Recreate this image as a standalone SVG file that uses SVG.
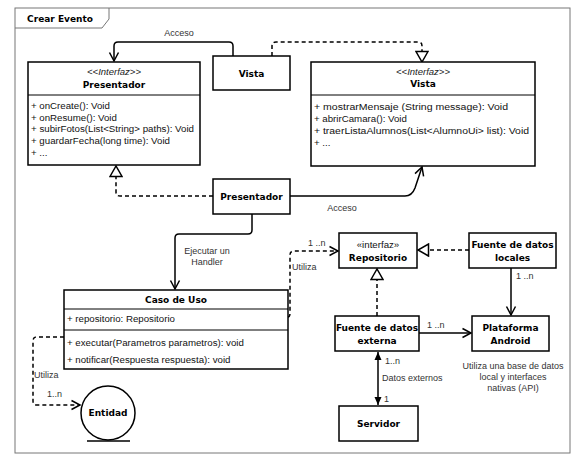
<svg xmlns="http://www.w3.org/2000/svg" width="587" height="460" viewBox="0 0 587 460">
<style>
.box{fill:#fff;stroke:#000;stroke-width:1.5}
.div{stroke:#000;stroke-width:1}
.frame{fill:#fff;stroke:#777;stroke-width:1}
.t{font-family:"DejaVu Sans",Verdana,sans-serif;font-weight:bold;font-size:9px;fill:#000;text-anchor:middle}
.st{font-family:"Liberation Sans",Arial,sans-serif;font-style:italic;font-size:9.5px;fill:#222;text-anchor:middle}
.m{font-family:"Liberation Sans",Arial,sans-serif;font-size:9.7px;fill:#111}
.lbl{font-family:"Liberation Sans",Arial,sans-serif;font-size:9px;fill:#333}
.c{text-anchor:middle}
.ln{fill:none;stroke:#000;stroke-width:1.5}
.dash{stroke-dasharray:4,3}
</style>
<defs>
<marker id="open" markerUnits="userSpaceOnUse" markerWidth="12" markerHeight="12" viewBox="0 0 12 12" refX="10.5" refY="6" orient="auto">
<path d="M2,1.5 L10.5,6 L2,10.5" fill="none" stroke="#000" stroke-width="1.5"/>
</marker>
<marker id="tri" markerUnits="userSpaceOnUse" markerWidth="14" markerHeight="14" viewBox="0 0 14 14" refX="12" refY="7" orient="auto">
<path d="M1.5,1 L12,7 L1.5,13 Z" fill="#fff" stroke="#000" stroke-width="1.5"/>
</marker>
<marker id="fill" markerUnits="userSpaceOnUse" markerWidth="10" markerHeight="10" viewBox="0 0 10 10" refX="9" refY="5" orient="auto-start-reverse">
<path d="M1,1.5 L9,5 L1,8.5 Z" fill="#000"/>
</marker>
</defs>
<rect width="587" height="460" fill="#fff"/>
<g id="frame">
<rect class="frame" x="15" y="8" width="555" height="445"/>
<path d="M15,28 H102 L109,19 V8" fill="none" stroke="#777" stroke-width="1"/>
<text class="t" x="60" y="22">Crear Evento</text>
</g>
<g id="connectors">
<path class="ln" d="M233,56 V46 Q233,42 229,42 H118 Q114,42 114,46 V61" marker-end="url(#open)"/>
<path class="ln dash" d="M272,56 V46 Q272,42 276,42 H418 Q422,42 422,46 V62" marker-end="url(#tri)"/>
<path class="ln dash" d="M213,196 H120 Q116,196 116,192 V166" marker-end="url(#tri)"/>
<path class="ln" d="M290,196 H405 Q412,196 415,188 L422,167" marker-end="url(#open)"/>
<path class="ln" d="M252,214 V230 Q252,234 248,234 H179 Q175,234 175,238 V289" marker-end="url(#open)"/>
<path class="ln dash" d="M288,317 Q290,317 290,313 V255 Q290,251 294,251 H338" marker-end="url(#open)"/>
<path class="ln dash" d="M64,337 H37 Q33,337 33,341 V401 Q33,405 37,405 H80" marker-end="url(#open)"/>
<path class="ln dash" d="M469,250 H418" marker-end="url(#tri)"/>
<path class="ln dash" d="M377,316 V269" marker-end="url(#tri)"/>
<path class="ln" d="M511,268 V315" marker-end="url(#open)"/>
<path class="ln" d="M419,333 H471" marker-end="url(#open)"/>
<path class="ln" d="M378,352 V405" marker-start="url(#fill)" marker-end="url(#fill)"/>
<text class="lbl c" x="179" y="36">Acceso</text>
<text class="lbl c" x="342" y="211">Acceso</text>
<text class="lbl c" x="207" y="254">Ejecutar un</text>
<text class="lbl c" x="207" y="265">Handler</text>
<text class="lbl" x="308" y="246">1 ..n</text>
<text class="lbl" x="292" y="270">Utiliza</text>
<text class="lbl" x="34" y="378">Utiliza</text>
<text class="lbl" x="47" y="397">1..n</text>
<text class="lbl" x="516" y="279">1 ..n</text>
<text class="lbl" x="427" y="328">1 ..n</text>
<text class="lbl" x="385" y="364">1..n</text>
<text class="lbl" x="382" y="381">Datos externos</text>
<text class="lbl" x="384" y="402">1</text>
</g>
<g id="presentador-interfaz">
<rect class="box" x="28" y="62" width="172" height="103"/>
<line class="div" x1="28" y1="95" x2="200" y2="95" stroke="#999"/>
<text class="st" x="114" y="75">&lt;&lt;Interfaz&gt;&gt;</text>
<text class="t" x="114" y="88">Presentador</text>
<text class="m" x="31" y="109">+ onCreate(): Void</text>
<text class="m" x="31" y="121">+ onResume(): Void</text>
<text class="m" x="31" y="132" textLength="163" lengthAdjust="spacingAndGlyphs">+ subirFotos(List&lt;String&gt; paths): Void</text>
<text class="m" x="31" y="144" textLength="139" lengthAdjust="spacingAndGlyphs">+ guardarFecha(long time): Void</text>
<text class="m" x="31" y="156">+ ...</text>
</g>
<g id="vista">
<rect class="box" x="213" y="56" width="77" height="34"/>
<text class="t" x="251.5" y="77">Vista</text>
</g>
<g id="vista-interfaz">
<rect class="box" x="311" y="62" width="224" height="104"/>
<line class="div" x1="311" y1="95" x2="535" y2="95" stroke="#999"/>
<text class="st" x="423" y="75">&lt;&lt;Interfaz&gt;&gt;</text>
<text class="t" x="423" y="87">Vista</text>
<text class="m" x="314" y="110" font-size="10.4" textLength="194" lengthAdjust="spacingAndGlyphs">+ mostrarMensaje (String message): Void</text>
<text class="m" x="314" y="122" font-size="10.4">+ abrirCamara(): Void</text>
<text class="m" x="314" y="134" font-size="10.4" textLength="215" lengthAdjust="spacingAndGlyphs">+ traerListaAlumnos(List&lt;AlumnoUi&gt; list): Void</text>
<text class="m" x="314" y="146" font-size="10.4">+ ...</text>
</g>
<g id="presentador">
<rect class="box" x="213" y="179" width="77" height="35"/>
<text class="t" x="251.5" y="200">Presentador</text>
</g>
<g id="caso-de-uso">
<rect class="box" x="64" y="290" width="224" height="79"/>
<line class="div" x1="64" y1="309" x2="288" y2="309"/>
<line class="div" x1="64" y1="330" x2="288" y2="330"/>
<text class="t" x="176" y="303">Caso de Uso</text>
<text class="m" x="67" y="322" font-size="9">+ repositorio: Repositorio</text>
<text class="m" x="67" y="346" font-size="9">+ executar(Parametros parametros): void</text>
<text class="m" x="67" y="363" font-size="9">+ notificar(Respuesta respuesta): void</text>
</g>
<g id="entidad">
<circle cx="108" cy="413" r="27" fill="#fff" stroke="#000" stroke-width="1.5"/>
<line x1="87" y1="441" x2="130" y2="441" stroke="#000" stroke-width="1.5"/>
<text class="t" x="108" y="416">Entidad</text>
</g>
<g id="repositorio">
<rect class="box" x="339" y="233" width="78" height="35"/>
<text class="m c" x="378" y="248" font-family="DejaVu Sans, sans-serif" font-size="9.5">«interfaz»</text>
<text class="t" x="378" y="261" font-size="9.5">Repositorio</text>
</g>
<g id="fuente-locales">
<rect class="box" x="469" y="233" width="87" height="35"/>
<text class="t" x="512.5" y="248">Fuente de datos</text>
<text class="t" x="512.5" y="261">locales</text>
</g>
<g id="fuente-externa">
<rect class="box" x="335" y="316" width="84" height="35"/>
<text class="t" x="377" y="331">Fuente de datos</text>
<text class="t" x="377" y="344">externa</text>
</g>
<g id="plataforma-android">
<rect class="box" x="472" y="316" width="77" height="35"/>
<text class="t" x="510.5" y="331">Plataforma</text>
<text class="t" x="510.5" y="344">Android</text>
<text class="lbl c" x="513" y="369">Utiliza una base de datos</text>
<text class="lbl c" x="513" y="380">local y interfaces</text>
<text class="lbl c" x="513" y="391">nativas (API)</text>
</g>
<g id="servidor">
<rect class="box" x="339" y="406" width="79" height="35"/>
<text class="t" x="378.5" y="427">Servidor</text>
</g>
</svg>
